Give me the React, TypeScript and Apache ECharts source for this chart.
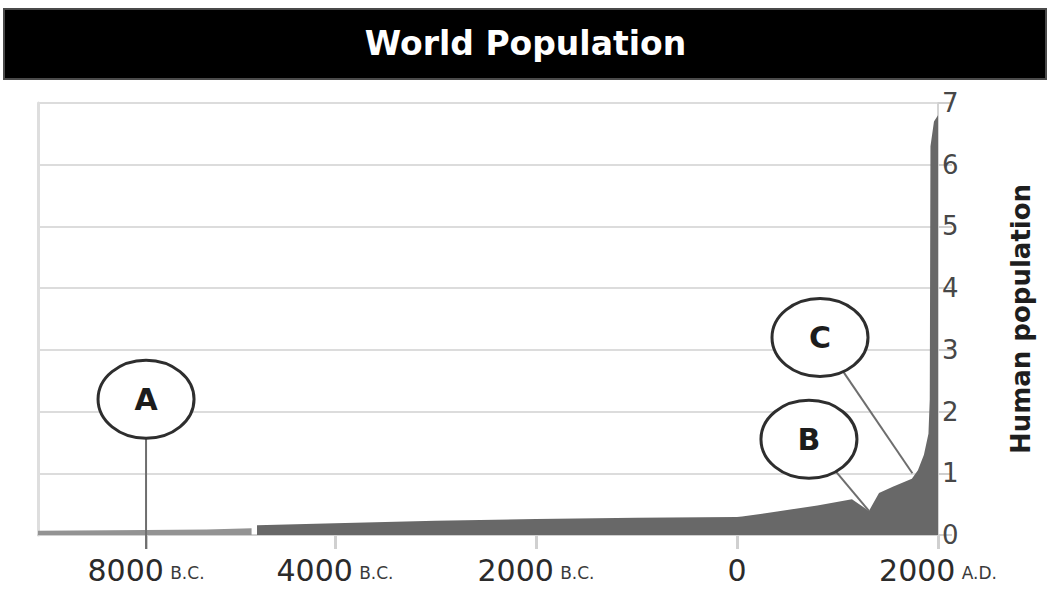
import React, { useEffect, useRef } from "react";
import * as echarts from "echarts";

const titleText = "World Population";
const yAxisName = "Human population";

// Population in billions, [year, value]; negative years are B.C.
const earlyEra: number[][] = [
  [-9075, 0.07],
  [-8000, 0.08],
  [-7400, 0.09],
  [-6950, 0.11],
];
const laterEra: number[][] = [
  [-4776, 0.16],
  [-4000, 0.19],
  [-3000, 0.23],
  [-2000, 0.26],
  [-1000, 0.28],
  [0, 0.29],
  [50, 0.3],
  [400, 0.38],
  [800, 0.48],
  [1144, 0.58],
  [1313, 0.39],
  [1413, 0.68],
  [1550, 0.78],
  [1740, 0.91],
  [1800, 1.05],
  [1860, 1.3],
  [1905, 1.64],
  [1918, 2.2],
  [1925, 6.3],
  [1960, 6.7],
  [2000, 6.8],
];
const earlyTicks = [-8000];
const laterTicks = [-4000, -2000, 0, 2000];
const tickNumbers: Record<string, string> = {
  "-8000": "8000",
  "-4000": "4000",
  "-2000": "2000",
  "0": "0",
  "2000": "2000",
};
const tickEras: Record<string, string> = {
  "-8000": "B.C.",
  "-4000": "B.C.",
  "-2000": "B.C.",
  "0": "",
  "2000": "A.D.",
};
const yMax = 7;

// Annotation callouts: letter, grid, centre (data coords), pointed-at data
const calloutLetters = ["A", "B", "C"];
const calloutGrids = [0, 1, 1];
const calloutCentres: number[][] = [
  [-8000, 2.2],
  [716, 1.55],
  [826, 3.2],
];
const calloutTargets: number[][] = [
  [-8000, 0],
  [1313, 0.39],
  [1745, 1.0],
];

const FONT = "DejaVu Sans";

function labelFormatter(v: number) {
  const key = String(Math.round(v));
  const n = tickNumbers[key] ?? "";
  const e = tickEras[key] ?? "";
  return e ? `{n|${n}} {e|${e}}` : `{n|${n}}`;
}

const richLabel = {
  n: { fontFamily: FONT, fontSize: 30, color: "#2b2b2b" },
  e: { fontFamily: FONT, fontSize: 17, color: "#3a3a3a", padding: [6, 0, 0, 3] },
};

export default function App() {
  const ref = useRef<HTMLDivElement>(null);
  useEffect(() => {
    if (!ref.current) return;
    const chart = echarts.init(ref.current, undefined, { renderer: "svg" });
    const gridLine = { show: true, lineStyle: { color: "#dcdcdc", width: 2 } };
    const option: any = {
      animation: false,
      backgroundColor: "#ffffff",
      title: {
        text: titleText,
        left: "center",
        top: 27,
        padding: 0,
        textStyle: { color: "#ffffff", fontSize: 33, fontWeight: "bold", fontFamily: FONT },
        z: 10,
      },
      grid: [
        { left: 38, right: 1051 - 257, top: 103, bottom: 611 - 535, outerBoundsMode: "none", containLabel: false },
        { left: 257, right: 1051 - 938, top: 103, bottom: 611 - 535, outerBoundsMode: "none", containLabel: false },
      ],
      xAxis: [
        {
          type: "value",
          gridIndex: 0,
          min: -9075,
          max: -6896,
          splitLine: { show: false },
          axisLine: { show: true, onZero: false, lineStyle: { color: "#d0d0d0", width: 2 } },
          axisTick: { show: true, customValues: earlyTicks, length: 14, lineStyle: { color: "#d0d0d0", width: 3 } },
          axisLabel: { show: true, customValues: earlyTicks, margin: 20, formatter: labelFormatter, rich: richLabel },
        },
        {
          type: "value",
          gridIndex: 1,
          min: -4776,
          max: 2000,
          splitLine: { show: false },
          axisLine: { show: true, onZero: false, lineStyle: { color: "#d0d0d0", width: 2 } },
          axisTick: { show: true, customValues: laterTicks, length: 14, lineStyle: { color: "#d0d0d0", width: 3 } },
          axisLabel: { show: true, customValues: laterTicks, margin: 20, formatter: labelFormatter, rich: richLabel },
        },
      ],
      yAxis: [
        {
          type: "value",
          gridIndex: 0,
          min: 0,
          max: yMax,
          interval: 1,
          position: "left",
          splitLine: gridLine,
          axisLine: { show: true, onZero: false, lineStyle: { color: "#dedede", width: 3 } },
          axisTick: { show: false },
          axisLabel: { show: false },
        },
        {
          type: "value",
          gridIndex: 1,
          min: 0,
          max: yMax,
          interval: 1,
          position: "right",
          name: yAxisName,
          nameLocation: "middle",
          nameRotate: 90,
          nameGap: 70,
          nameTextStyle: { fontFamily: FONT, fontSize: 26, fontWeight: "bold", color: "#1e1e1e" },
          splitLine: gridLine,
          axisLine: { show: true, onZero: false, lineStyle: { color: "#d4d4d4", width: 2 } },
          axisTick: { show: true, length: 14, lineStyle: { color: "#cfcfcf", width: 2 } },
          axisLabel: { show: true, margin: 4, fontFamily: FONT, fontSize: 26, color: "#474747" },
        },
      ],
      series: [
        {
          type: "line",
          xAxisIndex: 0,
          yAxisIndex: 0,
          data: earlyEra,
          symbol: "none",
          lineStyle: { width: 0 },
          areaStyle: { color: "#939393", opacity: 1 },
        },
        {
          type: "line",
          xAxisIndex: 1,
          yAxisIndex: 1,
          data: laterEra,
          symbol: "none",
          lineStyle: { width: 0 },
          areaStyle: { color: "#686868", opacity: 1 },
        },
      ],
      graphic: [
        {
          type: "rect",
          shape: { x: 4, y: 9, width: 1042, height: 70 },
          style: { fill: "#000000", stroke: "#4a4a4a", lineWidth: 2 },
          z: 1,
        },
      ],
    };
    chart.setOption(option);

    const rx = 48;
    const ry = 39;
    const extra: any[] = [];
    calloutLetters.forEach((letter, i) => {
      const finder = { xAxisIndex: calloutGrids[i], yAxisIndex: calloutGrids[i] };
      const c = chart.convertToPixel(finder, calloutCentres[i]) as number[];
      let t = chart.convertToPixel(finder, calloutTargets[i]) as number[];
      if (i === 0) t = [t[0], t[1] + 14];
      const dx = t[0] - c[0];
      const dy = t[1] - c[1];
      const s = 1 / Math.sqrt((dx / rx) ** 2 + (dy / ry) ** 2);
      extra.push({
        type: "line",
        shape: { x1: c[0] + dx * s, y1: c[1] + dy * s, x2: t[0], y2: t[1] },
        style: { stroke: "#6e6e6e", lineWidth: 2 },
        z: 20,
      });
      extra.push({
        type: "ellipse",
        shape: { cx: c[0], cy: c[1], rx, ry },
        style: { fill: "#ffffff", stroke: "#2e2e2e", lineWidth: 3 },
        z: 21,
      });
      extra.push({
        type: "text",
        x: c[0],
        y: c[1],
        style: {
          text: letter,
          fontFamily: FONT,
          fontSize: 30,
          fontWeight: "bold",
          fill: "#1c1c1c",
          align: "center",
          verticalAlign: "middle",
        },
        z: 22,
      });
    });
    chart.setOption({ graphic: [option.graphic[0], ...extra] });

    return () => chart.dispose();
  }, []);
  return (
    <div
      ref={ref}
      style={{ position: "fixed", left: 0, top: 0, width: 1051, height: 611 }}
    />
  );
}
